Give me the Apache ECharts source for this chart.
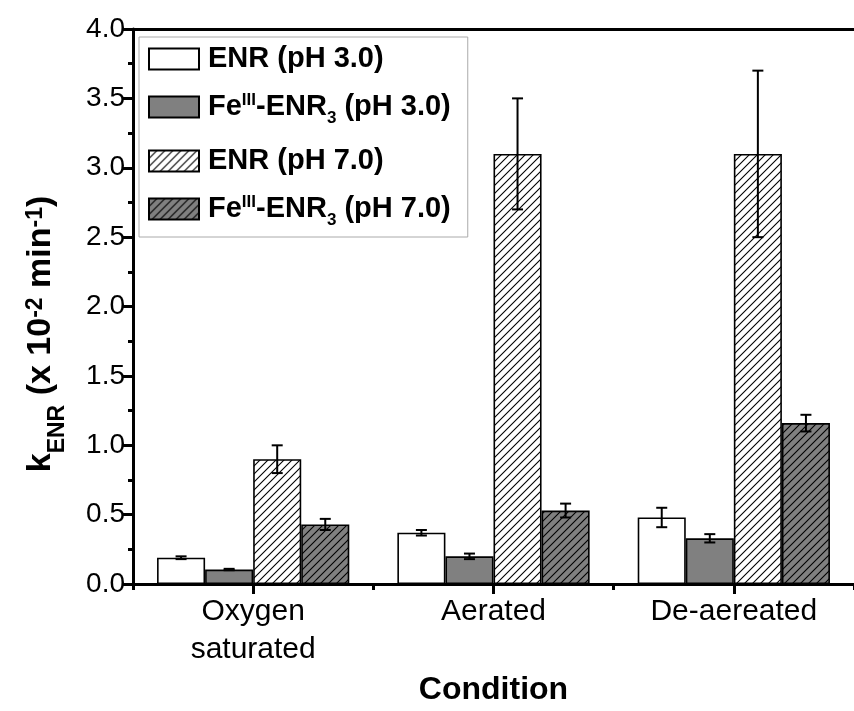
<!DOCTYPE html>
<html>
<head>
<meta charset="utf-8">
<script src="https://cdn.jsdelivr.net/npm/echarts@6/dist/echarts.min.js"></script>
<style>html,body{margin:0;padding:0;background:#fff;}#chart{width:854px;height:711px;}</style>
</head>
<body>
<div id="chart"></div>
<script>
// ---- data ----
var categories = ['Oxygen\nsaturated', 'Aerated', 'De-aereated'];
var seriesNames = ['ENR (pH 3.0)', 'FeIII-ENR3 (pH 3.0)', 'ENR (pH 7.0)', 'FeIII-ENR3 (pH 7.0)'];
var enrPH3 = [0.19, 0.37, 0.48];
var enrPH3Err = [0.01, 0.02, 0.07];
var feEnrPH3 = [0.105, 0.20, 0.33];
var feEnrPH3Err = [0.005, 0.02, 0.03];
var enrPH7 = [0.90, 3.10, 3.10];
var enrPH7Err = [0.10, 0.40, 0.60];
var feEnrPH7 = [0.43, 0.53, 1.16];
var feEnrPH7Err = [0.04, 0.05, 0.06];
var yTicks = [0, 0.5, 1, 1.5, 2, 2.5, 3, 3.5, 4];

var FONT = '"Liberation Sans", Arial, sans-serif';

function hatch(bg) {
  var c = document.createElement('canvas');
  c.width = 8; c.height = 8;
  var g = c.getContext('2d');
  g.fillStyle = bg; g.fillRect(0, 0, 8, 8);
  g.strokeStyle = '#000'; g.lineWidth = 1.1;
  g.beginPath();
  g.moveTo(-1, 9); g.lineTo(9, -1);
  g.moveTo(-1, 1); g.lineTo(1, -1);
  g.moveTo(7, 9); g.lineTo(9, 7);
  g.stroke();
  return c;
}

var fills = [
  '#ffffff',
  '#808080',
  { image: hatch('#ffffff'), repeat: 'repeat' },
  { image: hatch('#808080'), repeat: 'repeat' }
];
var values = [enrPH3, feEnrPH3, enrPH7, feEnrPH7];
var errors = [enrPH3Err, feEnrPH3Err, enrPH7Err, feEnrPH7Err];

var series = [];
values.forEach(function (vals, i) {
  series.push({
    name: seriesNames[i],
    type: 'bar',
    data: vals,
    barGap: '0%',
    barCategoryGap: '20%',
    itemStyle: { color: fills[i], borderColor: '#000', borderWidth: 1.6 },
    emphasis: { disabled: true },
    animation: false,
    z: 2
  });
});
values.forEach(function (vals, i) {
  var data = vals.map(function (v, k) { return [k, v, errors[i][k]]; });
  series.push({
    type: 'custom',
    name: 'err' + i,
    data: data,
    z: 5,
    animation: false,
    renderItem: function (params, api) {
      var k = api.value(0), v = api.value(1), e = api.value(2);
      var band = api.size([1, 0])[0];
      var bw = band * 0.2;
      var c = api.coord([k, v]);
      var x = c[0] + (i - 1.5) * bw;
      var yHi = api.coord([k, v + e])[1];
      var yLo = api.coord([k, v - e])[1];
      var cap = 5.5;
      var st = { stroke: '#000', lineWidth: 2 };
      return {
        type: 'group',
        children: [
          { type: 'line', shape: { x1: x, y1: yHi, x2: x, y2: yLo }, style: st },
          { type: 'line', shape: { x1: x - cap, y1: yHi, x2: x + cap, y2: yHi }, style: st },
          { type: 'line', shape: { x1: x - cap, y1: yLo, x2: x + cap, y2: yLo }, style: st }
        ]
      };
    }
  });
});

var legendLabel = {
  'ENR (pH 3.0)': '{b|ENR (pH 3.0)}',
  'FeIII-ENR3 (pH 3.0)': '{b|Fe}{sup|III}{b|-ENR}{sub|3}{b| (pH 3.0)}',
  'ENR (pH 7.0)': '{b|ENR (pH 7.0)}',
  'FeIII-ENR3 (pH 7.0)': '{b|Fe}{sup|III}{b|-ENR}{sub|3}{b| (pH 7.0)}'
};

var chart = echarts.init(document.getElementById('chart'), null, { renderer: 'canvas' });
chart.setOption({
  animation: false,
  backgroundColor: '#fff',
  grid: { left: 133, top: 29, width: 733, height: 569, containLabel: false },
  legend: {
    data: seriesNames.map(function (n) { return { name: n, icon: 'rect' }; }),
    orient: 'vertical',
    left: 139,
    top: 37,
    itemWidth: 50,
    itemHeight: 21,
    itemGap: 19,
    padding: [7, 17, 8, 9],
    borderColor: '#aaaaaa',
    borderWidth: 1,
    backgroundColor: '#fff',
    selectedMode: false,
    formatter: function (n) { return legendLabel[n]; },
    textStyle: {
      padding: [0, 0, 0, 4],
      rich: {
        b: { fontFamily: FONT, fontWeight: 'bold', fontSize: 29, color: '#000', lineHeight: 30, verticalAlign: 'top' },
        sup: { fontFamily: FONT, fontWeight: 'bold', fontSize: 17, color: '#000', lineHeight: 14, verticalAlign: 'top' },
        sub: { fontFamily: FONT, fontWeight: 'bold', fontSize: 17, color: '#000', lineHeight: 14, padding: [18, 0, 0, 0], verticalAlign: 'top' }
      }
    }
  },
  xAxis: [
    {
      type: 'category',
      data: categories,
      position: 'bottom',
      axisLine: { show: true, onZero: false, lineStyle: { color: '#000', width: 3 } },
      axisTick: { show: true, alignWithLabel: true, length: 10, lineStyle: { color: '#000', width: 3 } },
      axisLabel: { margin: 9, fontFamily: FONT, fontSize: 30, color: '#000', lineHeight: 38 },
      name: 'Condition',
      nameLocation: 'middle',
      nameGap: 82,
      nameTextStyle: { fontFamily: FONT, fontWeight: 'bold', fontSize: 32, color: '#000' },
      splitLine: { show: false }
    },
    {
      type: 'category',
      data: categories,
      position: 'bottom',
      axisLine: { show: false },
      axisTick: { show: true, length: 6, lineStyle: { color: '#000', width: 3 } },
      axisLabel: { show: false },
      splitLine: { show: false }
    },
    {
      type: 'category',
      data: categories,
      position: 'top',
      axisLine: { show: true, lineStyle: { color: '#000', width: 3 } },
      axisTick: { show: false },
      axisLabel: { show: false },
      splitLine: { show: false }
    }
  ],
  yAxis: {
    type: 'value',
    min: 0,
    max: 4,
    interval: 0.5,
    axisLine: { show: true, lineStyle: { color: '#000', width: 3 } },
    axisTick: { show: true, length: 10, lineStyle: { color: '#000', width: 3 } },
    minorTick: { show: true, splitNumber: 2, length: 5, lineStyle: { color: '#000', width: 3 } },
    axisLabel: {
      margin: 8, fontFamily: FONT, fontSize: 28, color: '#000',
      formatter: function (v) { return v.toFixed(1); }
    },
    splitLine: { show: false }
  },
  graphic: [{
    type: 'text',
    x: 42,
    y: 334,
    rotation: Math.PI / 2,
    style: {
      text: '{b|k}{sub|ENR}{b| (x 10}{sup|-2}{b| min}{sup|-1}{b|)}',
      align: 'center',
      verticalAlign: 'middle',
      textAlign: 'center',
      textVerticalAlign: 'middle',
      rich: {
        b: { fontFamily: FONT, fontWeight: 'bold', fontSize: 34, fill: '#000', color: '#000', lineHeight: 36, verticalAlign: 'top' },
        sup: { fontFamily: FONT, fontWeight: 'bold', fontSize: 23, fill: '#000', color: '#000', lineHeight: 18, verticalAlign: 'top' },
        sub: { fontFamily: FONT, fontWeight: 'bold', fontSize: 23, fill: '#000', color: '#000', lineHeight: 18, padding: [22, 0, 0, 0], verticalAlign: 'top' }
      }
    }
  }],
  series: series
});
</script>
</body>
</html>
